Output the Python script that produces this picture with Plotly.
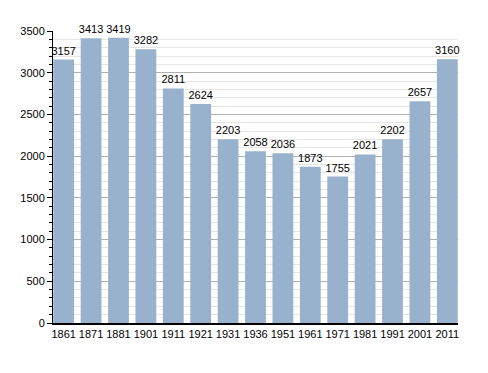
import plotly.graph_objects as go

years = ["1861", "1871", "1881", "1901", "1911", "1921", "1931", "1936", "1951",
         "1961", "1971", "1981", "1991", "2001", "2011"]
population = [3157, 3413, 3419, 3282, 2811, 2624, 2203, 2058, 2036, 1873, 1755,
              2021, 2202, 2657, 3160]
y_ticks = [0, 500, 1000, 1500, 2000, 2500, 3000, 3500]

fig = go.Figure()
fig.add_trace(go.Bar(
    x=years, y=population,
    text=[str(v) for v in population],
    textposition="outside",
    constraintext="none",
    textfont=dict(family="Liberation Sans, Arial", size=11, color="black"),
    marker=dict(color="#98B2CE", line=dict(width=0)),
    width=0.76,
    cliponaxis=False,
))
fig.update_layout(
    width=488, height=373,
    margin=dict(l=42, r=38, t=23, b=58),
    paper_bgcolor="white", plot_bgcolor="white",
    showlegend=False,
    font=dict(family="Liberation Sans, Arial", size=11, color="black"),
    bargap=0.24,
)
fig.update_xaxes(
    type="category", range=[-0.39, 14.39],
    showline=True, linecolor="black", linewidth=1.5,
    ticks="", showgrid=False,
    tickfont=dict(size=11),
)
fig.update_yaxes(
    range=[0, 3500], tickvals=y_ticks,
    showline=True, linecolor="black", linewidth=1,
    ticks="outside", ticklen=5, tickcolor="black",
    showgrid=True, gridcolor="#b0b0b0", gridwidth=1,
    minor=dict(dtick=100, showgrid=True, gridcolor="#e6e6e6",
               ticks="outside", ticklen=3, tickcolor="black"),
    zeroline=False,
    tickfont=dict(size=11),
)
fig.write_html("out.html")
